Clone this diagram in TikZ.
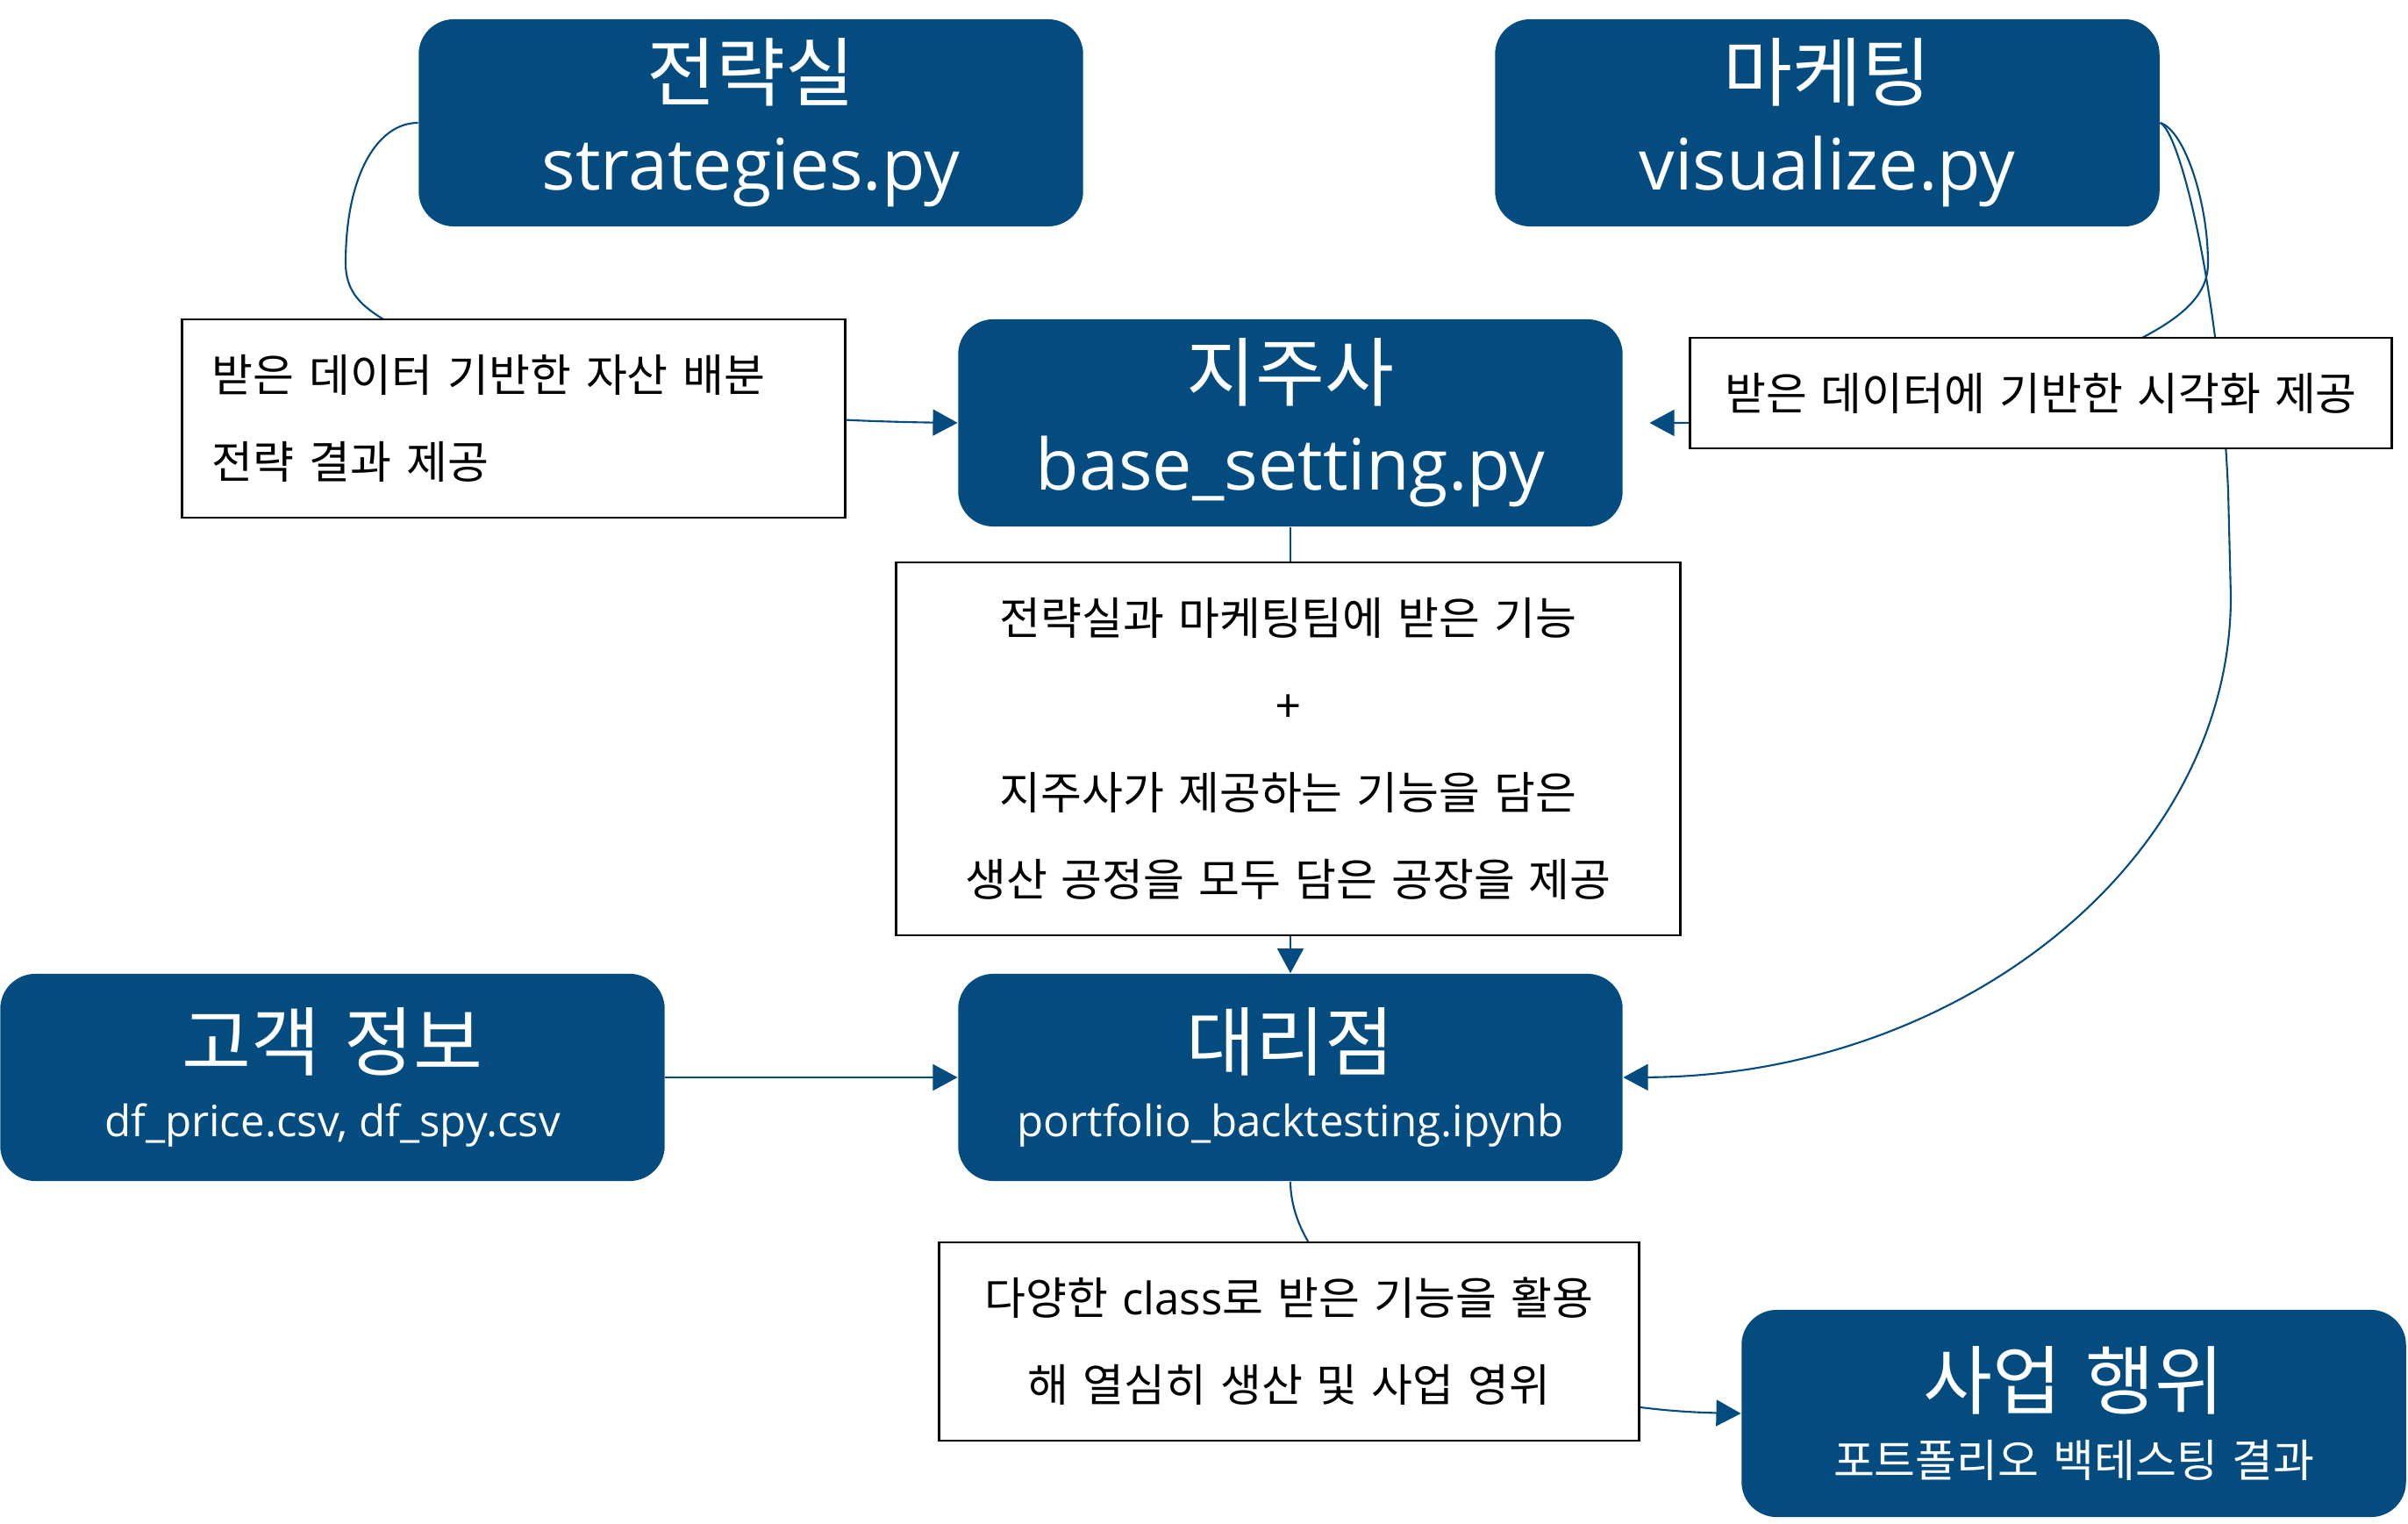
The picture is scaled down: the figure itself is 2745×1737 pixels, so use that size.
\documentclass[tikz,border=0pt]{standalone}
\usepackage{fontspec}
\setmainfont{Noto Sans CJK KR}[WordSpace=1.4]
\newfontfamily\lat{Open Sans}
\usetikzlibrary{arrows.meta,calc}
\definecolor{boxblue}{RGB}{4,75,128}
\newcommand{\krtitle}{\fontsize{24.4}{29}\selectfont}
\begin{document}
\begin{tikzpicture}[x=0.01cm,y=-0.01cm,
  unit/.style={fill=boxblue, draw=none, rounded corners=0.4cm, text=white,
    align=center, inner sep=0pt, minimum width=7.57cm, minimum height=2.36cm},
  note/.style={draw=black, line width=0.75pt, fill=white, inner sep=0pt,
    align=center, font=\fontsize{14.5}{28.2}\selectfont},
  link/.style={draw=boxblue, line width=0.6pt, -{Triangle[length=8pt,width=8.5pt]}}
]
\useasboundingbox (0,0) rectangle (2745,1737);

% departments
\node[unit, font=\fontsize{23}{29}\selectfont] (strat) at (856,140)
  {{\krtitle 전략실}\\{\lat strategies.py}};
\node[unit, font=\fontsize{23}{29}\selectfont] (mkt) at (2083,140)
  {{\krtitle 마케팅}\\{\lat visualize.py}};
\node[unit, font=\fontsize{23}{29}\selectfont] (hold) at (1471,482)
  {{\krtitle 지주사}\\{\lat base\_setting.py}};
\node[unit, font=\fontsize{24.4}{21.6}\selectfont] (agent) at (1471,1228)
  {대리점\\{\lat\fontsize{14}{21.6}\selectfont portfolio\_backtesting.ipynb}};
\node[unit, font=\fontsize{24.4}{21.6}\selectfont] (cust) at (379,1228)
  {고객 정보\\{\lat\fontsize{14}{21.6}\selectfont df\_price.csv, df\_spy.csv}};
\node[unit, font=\fontsize{24.4}{22.2}\selectfont] (biz) at (2364,1611)
  {사업 행위\\{\fontsize{14.5}{22.2}\selectfont 포트폴리오 백테스팅 결과}};

% connectors (the notes are laid over them afterwards)
\draw[link] (strat.west) .. controls (430,140) and (394,200) .. (394,300)
  .. controls (394,335) and (415,350) .. (437,364)
  .. controls (520,440) and (800,478) .. (hold.west);
\draw[link, shorten >=0.3cm] (mkt.east) .. controls (2490,148) and (2517,230) .. (2517,300)
  .. controls (2517,335) and (2490,360) .. (2440,386)
  .. controls (2300,455) and (2050,482) .. (hold.east);
\draw[link] (mkt.east) .. controls (2485,150) and (2530,330) .. (2540,560)
  -- (2543,680)
  .. controls (2543,982) and (2233,1226) .. (agent.east);
\draw[link] (hold.south) -- (agent.north);
\draw[link] (cust.east) -- (agent.west);
\draw[link] (agent.south) .. controls (1472,1480) and (1700,1605) .. (biz.west);

% notes
\node[note, text width=6.87cm, align=left, inner xsep=0.34cm, minimum height=2.26cm]
  (noteL) at (585.5,477) {받은 데이터 기반한 자산 배분\\전략 결과 제공};
\node[note, minimum width=7.99cm, minimum height=1.26cm]
  (noteR) at (2326.5,448) {받은 데이터에 기반한 시각화 제공};
\node[note, minimum width=8.93cm, minimum height=4.25cm]
  (noteM) at (1468.5,853.5) {전략실과 마케팅팀에 받은 기능\\+\\지주사가 제공하는 기능을 담은\\생산 공정을 모두 담은 공장을 제공};
\node[note, minimum width=7.97cm, minimum height=2.26cm]
  (noteB) at (1469.5,1529) {다양한 {\lat class}로 받은 기능을 활용\\해 열심히 생산 및 사업 영위};
\end{tikzpicture}
\end{document}
